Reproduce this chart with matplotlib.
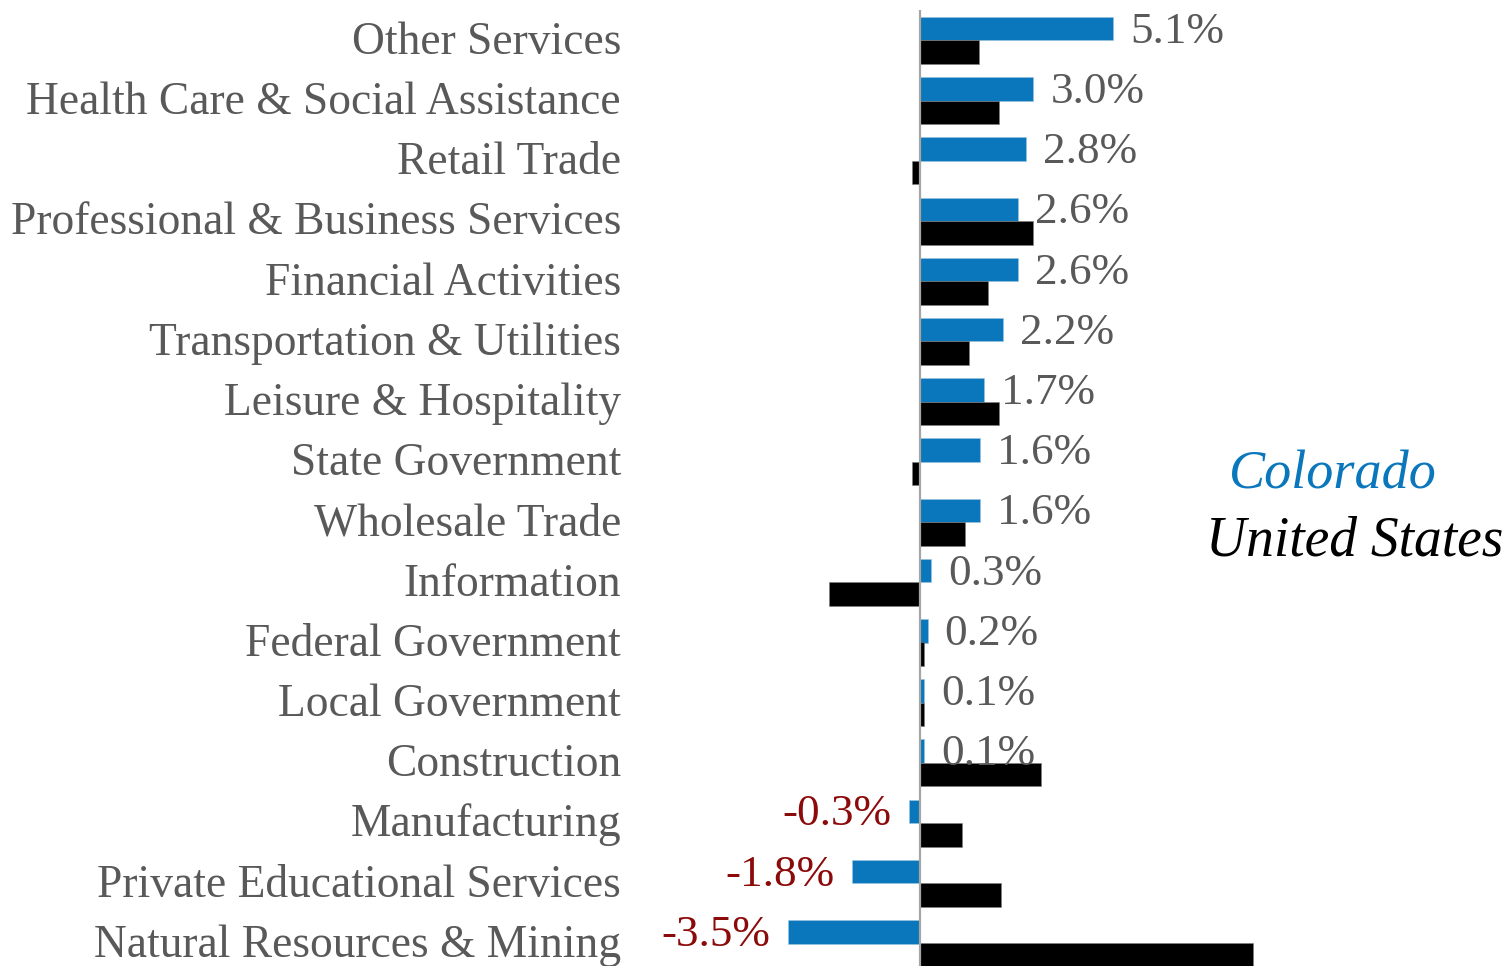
import matplotlib
matplotlib.use("Agg")
import matplotlib.pyplot as plt
from matplotlib import transforms

categories = ["Other Services", "Health Care & Social Assistance", "Retail Trade",
              "Professional & Business Services", "Financial Activities",
              "Transportation & Utilities", "Leisure & Hospitality", "State Government",
              "Wholesale Trade", "Information", "Federal Government", "Local Government",
              "Construction", "Manufacturing", "Private Educational Services",
              "Natural Resources & Mining"]
colorado = [5.1, 3.0, 2.8, 2.6, 2.6, 2.2, 1.7, 1.6, 1.6, 0.3, 0.2, 0.1, 0.1, -0.3, -1.8, -3.5]
united_states = [1.55, 2.1, -0.2, 3.0, 1.8, 1.3, 2.1, -0.2, 1.2, -2.4, 0.1, 0.1, 3.2, 1.1, 2.15, 8.8]
legend_labels = ["Colorado", "United States"]

BLUE = "#0A77BD"
GRAY = "#595959"
RED = "#8B0A0A"
FONT = "Liberation Serif"

W, H = 1508, 966
fig = plt.figure(figsize=(W / 100, H / 100), dpi=100)
zero_px, scale = 920, 37.8
left_px, right_px = 640, 1508
top_px, bot_px = 10.4, 973.6
ax = fig.add_axes([left_px / W, 1 - bot_px / H, (right_px - left_px) / W, (bot_px - top_px) / H])
ax.set_xlim((left_px - zero_px) / scale, (right_px - zero_px) / scale)
n = len(categories)
ax.set_ylim(n - 0.5, -0.5)

pos = list(range(n))
bh = 0.39
ax.barh([p - bh / 2 for p in pos], colorado, height=bh, color=BLUE,
        edgecolor="#9cc3e0", linewidth=0.4)
ax.barh([p + bh / 2 for p in pos], united_states, height=bh, color="black",
        edgecolor="#808080", linewidth=0.4)
ax.axvline(0, color="#A6A6A6", linewidth=1.6, zorder=3)

down = transforms.ScaledTranslation(0, -3 / 100, fig.dpi_scale_trans)
off = 17 / scale
for p, v in zip(pos, colorado):
    if v >= 0:
        ax.text(v + off, p - bh / 2, f"{v:.1f}%", ha="left", va="center",
                fontsize=32.5, family=FONT, color=GRAY, transform=ax.transData + down)
    else:
        ax.text(v - off, p - bh / 2, f"{v:.1f}%", ha="right", va="center",
                fontsize=32.5, family=FONT, color=RED, transform=ax.transData + down)

lab_tr = transforms.blended_transform_factory(ax.transAxes, ax.transData) + \
    transforms.ScaledTranslation(-19 / 100, 3 / 100, fig.dpi_scale_trans)
for p, c in zip(pos, categories):
    ax.text(0, p, c, ha="right", va="center_baseline", fontsize=32.8, family=FONT,
            color=GRAY, transform=lab_tr, clip_on=False)

ax.set_yticks([])
ax.set_xticks([])
for s in ax.spines.values():
    s.set_visible(False)

fig.text(1229 / W, 1 - 475 / H, legend_labels[0], ha="left", va="center",
         fontsize=39, family=FONT, style="italic", color=BLUE)
fig.text(1206 / W, 1 - 541 / H, legend_labels[1], ha="left", va="center",
         fontsize=40, family=FONT, style="italic", color="black")

fig.savefig("out.png", dpi=100)
